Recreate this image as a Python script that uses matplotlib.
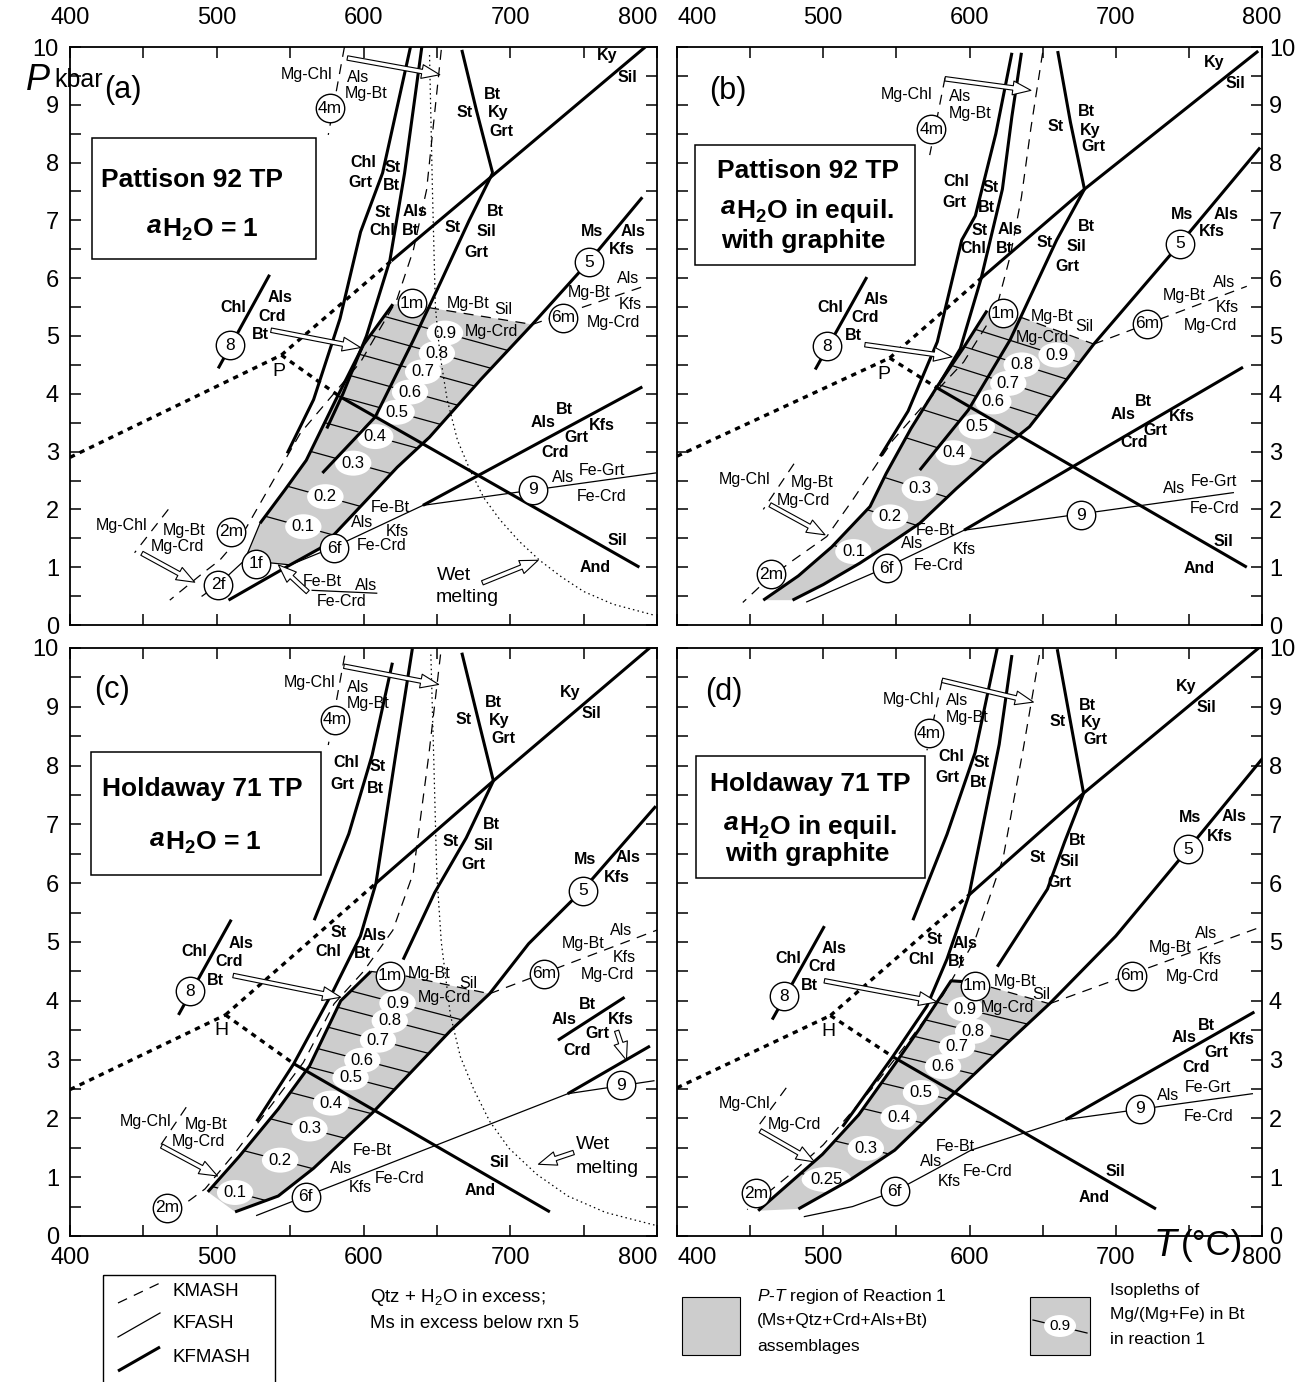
import matplotlib
matplotlib.use("Agg")
import matplotlib.pyplot as plt
from matplotlib.patches import Polygon, Rectangle, FancyArrowPatch, ArrowStyle
import numpy as np

plt.rcParams['font.family'] = 'Liberation Sans'
plt.rcParams['mathtext.fontset'] = 'custom'
plt.rcParams['mathtext.rm'] = 'Liberation Sans'
plt.rcParams['mathtext.it'] = 'Liberation Sans:italic'
plt.rcParams['mathtext.bf'] = 'Liberation Sans:bold'

# ---------------------------------------------------------------- panel (a)
# curves: name -> (style, [(T, P), ...])
a_curves = {
    'ky_sil': ('thick', [(619, 6.3), (792, 10.0)]),
    'ky_sil_ms': ('dot', [(544, 4.67), (619, 6.3)]),
    'and_ky': ('dot', [(400, 2.9), (544, 4.67)]),
    'and_sil_ms': ('dot', [(544, 4.67), (584, 3.95)]),
    'and_sil': ('thick', [(584, 3.95), (788, 1.0)]),
    'st_ky': ('thick', [(667, 9.95), (677, 8.9), (688, 7.82)]),
    'st_sil': ('thick', [(688, 7.82), (672, 7.0), (652, 5.9), (634, 4.93), (608, 3.6), (572, 2.63)]),
    'chl_grt': ('thick', [(632, 10.0), (613, 7.82), (598, 6.8), (584, 5.3), (566, 3.9), (548, 2.97)]),
    'st_chl': ('thick', [(640, 10.05), (628, 7.82), (618, 6.31), (602, 5.0), (586, 4.0), (575, 3.4)]),
    'rxn1': ('thick', [(620, 5.55), (600, 4.85), (581, 3.89), (561, 2.85), (546.5, 2.34), (529.5, 1.76)]),
    'rxn2f': ('thin', [(529.5, 1.76), (519, 1.12), (501, 0.7), (490, 0.5)]),
    'rxn1f': ('thin', [(519, 1.12), (550, 1.04)]),
    'rxn5': ('thick', [(508, 0.43), (530, 0.75), (550, 1.04), (572, 1.35), (602, 2.16), (623, 2.73),
                       (645, 3.25), (680, 4.25), (715, 5.2), (754, 6.3), (790, 7.4)]),
    'rxn1m': ('dash', [(633, 5.55), (647, 5.48), (715, 5.2)]),
    'rxn6m': ('dash', [(715, 5.2), (790, 5.85)]),
    'rxn2m': ('dash', [(653, 9.95), (643, 7.53), (634, 6.49), (622.6, 5.62), (598, 4.55), (557, 3.32),
                       (518, 1.59), (502, 1.12), (490.6, 0.9), (468, 0.43)]),
    'rxn4m': ('dash', [(587, 10.0), (576, 8.48)]),
    'rxn6f': ('thin', [(550, 1.04), (580, 1.35), (640.5, 2.07)]),
    'rxn9': ('thin', [(640.5, 2.07), (799, 2.63)]),
    'rxn_bt': ('thick', [(640.5, 2.07), (790, 4.12)]),
    'rxn8': ('thick', [(536, 6.06), (501, 4.44)]),
    'wet': ('fine', [(645, 9.86), (647, 7.5), (649, 5.5), (652, 4.7), (657, 3.9), (664, 3.2), (672.6, 2.68),
                     (682, 2.2), (693, 1.82), (706, 1.45), (720, 1.12), (735, 0.83), (750, 0.58),
                     (770, 0.36), (798, 0.17)]),
    'key_2m': ('dash', [(467, 2.0), (444, 1.25)]),
    'key_1f': ('thin', [(565, 0.6), (609, 0.55)]),
}
a_field = [(620, 5.55), (600, 4.85), (581, 3.89), (561, 2.85), (546.5, 2.34), (529.5, 1.76), (519, 1.12),
           (550, 1.04), (572, 1.35), (602, 2.16), (623, 2.73), (645, 3.25), (680, 4.25), (715, 5.2),
           (647, 5.48), (633, 5.55)]
a_iso = [("0.9", 655.5, 5.05), ("0.8", 650, 4.7), ("0.7", 640.6, 4.38), ("0.6", 631.7, 4.03),
         ("0.5", 622.6, 3.68), ("0.4", 608, 3.26), ("0.3", 593, 2.8), ("0.2", 574, 2.22), ("0.1", 559, 1.7)]
a_iso_slope = -0.007
a_circles = [("4m", 577, 8.94), ("1m", 633, 5.57), ("5", 754, 6.28), ("6m", 736, 5.32), ("8", 509, 4.84),
             ("2m", 510, 1.61), ("2f", 501, 0.7), ("1f", 527, 1.06), ("6f", 580, 1.33), ("9", 715.5, 2.34)]
a_bold = [("Chl", 600, 8.0), ("Grt", 598, 7.66), ("St", 620, 7.92), ("Bt", 619, 7.6),
          ("St", 613, 7.13), ("Chl", 612.6, 6.82), ("Als", 635, 7.15), ("Bt", 632, 6.82),
          ("St", 669, 8.86), ("Bt", 688, 9.17), ("Ky", 691.6, 8.86), ("Grt", 694, 8.53),
          ("St", 661, 6.87), ("Bt", 689.6, 7.15), ("Sil", 684, 6.8), ("Grt", 677, 6.45),
          ("Ky", 766, 9.86), ("Sil", 780, 9.48), ("Ms", 756, 6.8), ("Als", 784, 6.8), ("Kfs", 776, 6.49),
          ("Bt", 737, 3.72), ("Als", 722, 3.51), ("Kfs", 762.5, 3.46), ("Grt", 745, 3.25), ("Crd", 730.5, 2.99),
          ("Sil", 772.7, 1.47), ("And", 757.7, 1.0),
          ("Chl", 511, 5.5), ("Als", 543, 5.66), ("Crd", 537.6, 5.33), ("Bt", 529.5, 5.02)]
a_plain = [("Mg-Chl", 561, 9.52), ("Als", 596, 9.48), ("Mg-Bt", 602, 9.2),
           ("Mg-Bt", 671.5, 5.57), ("Sil", 695.3, 5.45), ("Mg-Crd", 687.5, 5.07),
           ("Als", 780, 6.0), ("Mg-Bt", 754, 5.76), ("Kfs", 781.6, 5.54), ("Mg-Crd", 770, 5.24),
           ("Als", 736, 2.56), ("Fe-Grt", 762.5, 2.68), ("Fe-Crd", 762.5, 2.22),
           ("Fe-Bt", 618, 2.04), ("Als", 599, 1.78), ("Kfs", 623, 1.61), ("Fe-Crd", 612.6, 1.38),
           ("Fe-Bt", 572, 0.75), ("Als", 602, 0.69), ("Fe-Crd", 585, 0.4),
           ("Mg-Chl", 435, 1.73), ("Mg-Bt", 478, 1.64), ("Mg-Crd", 473, 1.35)]
a_big = [("Wet", 662, 0.86), ("melting", 671, 0.47), ("P", 542, 4.38)]
a_arrows = [(589, 9.81, 652, 9.52), (537, 5.1, 598, 4.8), (449, 1.24, 485, 0.74),
            (562, 0.57, 542, 1.04), (681, 0.73, 719, 1.12)]
a_box = (415, 6.33, 567.6, 8.43)
a_title = ("Pattison 92 TP", 483.4, 7.70)
a_water = (462.5, 6.72, " = 1")
a_extra = None
a_tag = ("(a)", 436, 9.26)

# ---------------------------------------------------------------- panel (b)
b_curves = {
    'ky_sil': ('thick', [(608, 6.0), (678.6, 7.54), (797.4, 9.93)]),
    'ky_sil_ms': ('dot', [(545.4, 4.62), (608, 6.0)]),
    'and_ky': ('dot', [(400, 2.92), (545.4, 4.62)]),
    'and_sil_ms': ('dot', [(545.4, 4.62), (578, 4.1)]),
    'and_sil': ('thick', [(578, 4.1), (789.6, 1.0)]),
    'st_ky': ('thick', [(660.3, 9.93), (669, 8.7), (678.6, 7.54)]),
    'st_sil': ('thick', [(678.6, 7.54), (659.6, 6.66), (627.7, 4.93), (599.2, 3.72), (566, 2.68)]),
    'chl_grt': ('thick', [(629, 9.9), (618, 8.5), (604, 7.08), (594.7, 6.66), (578, 4.9), (558, 3.7), (539, 2.92)]),
    'st_chl': ('thick', [(635.5, 9.9), (629, 8.8), (622.5, 7.54), (608, 6.0), (593.7, 4.78), (580, 4.2)]),
    'rxn1': ('thick', [(612, 5.44), (596, 4.8), (578, 4.13), (560, 3.4), (543, 2.62), (532, 2.05),
                       (505.8, 1.35), (483, 0.85), (459, 0.43)]),
    'rxn5': ('thick', [(479, 0.43), (500, 0.7), (525, 1.07), (545, 1.4), (566, 1.76), (591, 2.36),
                       (615, 2.9), (641, 3.43), (665, 4.2), (685, 4.86), (744, 6.6), (798.7, 8.26)]),
    'rxn1m': ('dash', [(623, 5.4), (636.6, 5.31), (685, 4.86)]),
    'rxn6m': ('dash', [(685, 4.86), (789.6, 5.86)]),
    'rxn2m': ('dash', [(650, 9.9), (642, 8.6), (635.5, 7.4), (628, 6.4), (618, 5.44), (596, 4.55),
                       (572, 3.9), (547.7, 3.2), (520, 2.16), (502.4, 1.53), (479.4, 1.12),
                       (461.5, 0.78), (445, 0.39)]),
    'rxn4m': ('dash', [(583.3, 9.47), (572.8, 8.13)]),
    'rxn6f': ('thin', [(488.7, 0.4), (543.4, 1.0), (596.3, 1.64)]),
    'rxn9': ('thin', [(596.3, 1.64), (780.4, 2.29)]),
    'rxn_bt': ('thick', [(596.3, 1.64), (787, 4.46)]),
    'rxn8': ('thick', [(529.8, 6.02), (494.5, 4.42)]),
    'key_2m': ('dash', [(480, 2.79), (459, 2.0)]),
}
b_field = [(612, 5.44), (596, 4.8), (578, 4.13), (560, 3.4), (543, 2.62), (532, 2.05), (505.8, 1.35),
           (483, 0.85), (459, 0.43), (479, 0.43), (500, 0.7), (525, 1.07), (545, 1.4), (566, 1.76),
           (591, 2.36), (615, 2.9), (641, 3.43), (665, 4.2), (685, 4.86), (636.6, 5.31), (623, 5.4)]
b_iso = [("0.9", 659.6, 4.67), ("0.8", 635.7, 4.5), ("0.7", 626.5, 4.18), ("0.6", 616.3, 3.86),
         ("0.5", 605, 3.43), ("0.4", 589, 2.98), ("0.3", 566, 2.36), ("0.2", 545.6, 1.87), ("0.1", 520.6, 1.27)]
b_iso_slope = -0.008
b_circles = [("4m", 574, 8.58), ("1m", 623, 5.39), ("5", 744, 6.6), ("6m", 721.7, 5.21), ("8", 502.3, 4.82),
             ("2m", 464.5, 0.88), ("6f", 543.4, 0.98), ("9", 676, 1.9)]
b_bold = [("Chl", 591, 7.67), ("Grt", 589.8, 7.31), ("St", 614.6, 7.57), ("Bt", 611.5, 7.22),
          ("St", 606.8, 6.82), ("Chl", 602.9, 6.52), ("Als", 627.7, 6.85), ("Bt", 623.8, 6.52),
          ("St", 659, 8.62), ("Bt", 680, 8.88), ("Ky", 682.5, 8.55), ("Grt", 685, 8.27),
          ("Bt", 680, 6.89), ("St", 651.2, 6.62), ("Sil", 673.4, 6.55), ("Grt", 666.8, 6.21),
          ("Ky", 767.4, 9.73), ("Sil", 781.7, 9.37), ("Ms", 745.2, 7.11), ("Als", 775.2, 7.11), ("Kfs", 766, 6.8),
          ("Bt", 719, 3.87), ("Als", 704.7, 3.64), ("Kfs", 745.2, 3.6), ("Grt", 726.9, 3.37), ("Crd", 712.5, 3.15),
          ("Sil", 773.9, 1.44), ("And", 756.9, 0.98),
          ("Chl", 505, 5.5), ("Als", 536.3, 5.64), ("Crd", 528.5, 5.32), ("Bt", 520.6, 5.01)]
b_plain = [("Mg-Chl", 557.2, 9.17), ("Als", 593.7, 9.14), ("Mg-Bt", 600.3, 8.85),
           ("Mg-Bt", 656.3, 5.33), ("Sil", 678.2, 5.16), ("Mg-Crd", 650.2, 4.97),
           ("Als", 773.9, 5.93), ("Mg-Bt", 746.5, 5.7), ("Kfs", 776.5, 5.5), ("Mg-Crd", 764.8, 5.19),
           ("Als", 740, 2.36), ("Fe-Grt", 767.4, 2.49), ("Fe-Crd", 767.4, 2.02),
           ("Fe-Bt", 576.5, 1.64), ("Als", 560.5, 1.41), ("Kfs", 596.3, 1.31), ("Fe-Crd", 579, 1.03),
           ("Mg-Chl", 446.2, 2.52), ("Mg-Bt", 492.1, 2.47), ("Mg-Crd", 486.5, 2.16)]
b_big = [("P", 541.5, 4.33)]
b_arrows = [(583.3, 9.45, 642, 9.25), (528.5, 4.85, 588, 4.64), (463.6, 2.08, 501.2, 1.56)]
b_box = (412.3, 6.23, 563, 8.31)
b_title = ("Pattison 92 TP", 489.8, 7.86)
b_water = (440.2, 7.04, " in equil.")
b_extra = ("with graphite", 486.4, 6.65)
b_tag = ("(b)", 434.5, 9.24)

# ---------------------------------------------------------------- panel (c)
c_curves = {
    'ky_sil': ('thick', [(608.5, 6.0), (688.5, 7.74), (799.2, 10.09)]),
    'ky_sil_ms': ('dot', [(505.9, 3.76), (608.5, 6.0)]),
    'and_ky': ('dot', [(400, 2.49), (505.9, 3.76)]),
    'and_sil_ms': ('dot', [(505.9, 3.76), (552.5, 2.93)]),
    'and_sil': ('thick', [(552.5, 2.93), (727, 0.41)]),
    'st_ky': ('thick', [(667, 9.92), (678, 8.8), (688.5, 7.74)]),
    'st_sil': ('thick', [(688.5, 7.74), (670, 6.77), (648.5, 5.84), (627, 4.70)]),
    'chl_grt': ('thick', [(619.7, 9.75), (605.9, 8.18), (590, 6.84), (566.4, 5.37)]),
    'st_chl': ('thick', [(633.3, 9.99), (621.9, 8.18), (608.5, 6.0), (597.9, 5.1), (579.2, 4.16),
                         (552.5, 2.93), (527.2, 1.95)]),
    'rxn1': ('thick', [(605, 4.5), (584.5, 4.0), (563.2, 2.89), (541.9, 2.16), (515.2, 1.35), (493.9, 0.75)]),
    'rxn5': ('thick', [(512.5, 0.41), (541.9, 0.68), (565.9, 1.15), (605.9, 2.09), (659.2, 3.49),
                       (685.9, 4.12), (712.5, 4.97), (749.9, 5.9), (799.2, 7.31)]),
    'rxn1m': ('dash', [(605, 4.5), (627.2, 4.43), (685.9, 4.12)]),
    'rxn6m': ('dash', [(685.9, 4.12), (805, 5.25)]),
    'rxn2m': ('dash', [(652.5, 9.89), (644.5, 8.18), (633.9, 6.17), (620, 5.2), (600, 4.5), (580, 3.95),
                       (559, 2.95), (538, 2.25), (512, 1.4), (492, 0.8), (480, 0.58)]),
    'rxn4m': ('dash', [(587.2, 9.87), (576, 8.35)]),
    'rxn6f': ('thin', [(527.2, 0.35), (739.2, 2.42)]),
    'rxn9': ('thin', [(739.2, 2.42), (797.9, 2.64)]),
    'rxn_bt': ('thick', [(739.2, 2.42), (795.2, 3.23)]),
    'key_bt': ('thick', [(732.5, 3.33), (777.9, 4.06)]),
    'rxn8': ('thick', [(509.9, 5.38), (473.9, 3.76)]),
    'wet': ('fine', [(645.9, 9.89), (648, 8.0), (649.9, 6.17), (653, 5.0), (659.2, 3.76), (666, 3.05),
                     (675.2, 2.49), (686, 1.95), (699.2, 1.49), (718, 1.05), (739.2, 0.68), (765, 0.4),
                     (799.2, 0.18)]),
    'key_2m': ('dash', [(479.2, 2.19), (459.2, 1.45)]),
}
c_field = [(605, 4.5), (584.5, 4.0), (563.2, 2.89), (541.9, 2.16), (515.2, 1.35), (493.9, 0.75),
           (512.5, 0.41), (541.9, 0.68), (565.9, 1.15), (605.9, 2.09), (659.2, 3.49), (685.9, 4.12),
           (627.2, 4.43)]
c_iso = [("0.9", 623.2, 3.96), ("0.8", 617.9, 3.66), ("0.7", 609.9, 3.33), ("0.6", 599.2, 2.99),
         ("0.5", 591.2, 2.69), ("0.4", 577.9, 2.26), ("0.3", 563.2, 1.82), ("0.2", 543.2, 1.29), ("0.1", 512.5, 0.74)]
c_iso_slope = -0.0065
c_circles = [("4m", 580.5, 8.78), ("1m", 617.9, 4.43), ("5", 749.9, 5.87), ("6m", 723.2, 4.46), ("8", 481.9, 4.16),
             ("2m", 465.9, 0.48), ("6f", 560.5, 0.67), ("9", 775.2, 2.56)]
c_bold = [("Chl", 588.5, 8.05), ("Grt", 585.9, 7.68), ("St", 609.9, 7.98), ("Bt", 608, 7.61),
          ("St", 583.2, 5.17), ("Chl", 576, 4.83), ("Als", 607.2, 5.11), ("Bt", 599.2, 4.8),
          ("St", 668.5, 8.78), ("Bt", 688.5, 9.08), ("Ky", 692.5, 8.76), ("Grt", 695.2, 8.46),
          ("Bt", 687.2, 6.99), ("St", 659.2, 6.71), ("Sil", 681.9, 6.64), ("Grt", 675.2, 6.31),
          ("Ky", 740.5, 9.25), ("Sil", 755.2, 8.88), ("Ms", 751.2, 6.41), ("Als", 780.5, 6.43), ("Kfs", 772.5, 6.1),
          ("Bt", 752.5, 3.93), ("Als", 736.5, 3.69), ("Kfs", 775.2, 3.69), ("Grt", 759.2, 3.44), ("Crd", 745.9, 3.16),
          ("Sil", 692.5, 1.25), ("And", 679.2, 0.78),
          ("Chl", 484.5, 4.83), ("Als", 516.5, 4.98), ("Crd", 508.5, 4.67), ("Bt", 499.2, 4.34)]
c_plain = [("Mg-Chl", 563.2, 9.42), ("Als", 596.5, 9.33), ("Mg-Bt", 603.2, 9.05),
           ("Mg-Bt", 644.5, 4.46), ("Sil", 671.2, 4.3), ("Mg-Crd", 655.2, 4.06),
           ("Als", 775.2, 5.2), ("Mg-Bt", 749.9, 4.98), ("Kfs", 777.9, 4.73), ("Mg-Crd", 765.9, 4.44),
           ("Fe-Bt", 605.9, 1.45), ("Als", 584.5, 1.15), ("Fe-Crd", 624.5, 0.98), ("Kfs", 597.9, 0.82),
           ("Mg-Chl", 451.2, 1.95), ("Mg-Bt", 492.5, 1.89), ("Mg-Crd", 487.2, 1.6)]
c_big = [("Wet", 756.5, 1.55), ("melting", 765.9, 1.15), ("H", 503.2, 3.49)]
c_arrows = [(586.7, 9.69, 651.2, 9.38), (511.2, 4.43, 584.5, 4.06), (462.4, 1.53, 500.5, 1.02),
            (772.5, 3.49, 779.2, 2.99), (743.2, 1.42, 719.2, 1.22)]
c_box = (414.4, 6.14, 570.7, 8.23)
c_title = ("Holdaway 71 TP", 490.4, 7.61)
c_water = (464.5, 6.57, " = 1")
c_extra = None
c_tag = ("(c)", 428.5, 9.28)

# ---------------------------------------------------------------- panel (d)
d_curves = {
    'ky_sil': ('thick', [(599.7, 5.8), (678, 7.53), (801.6, 10.08)]),
    'ky_sil_ms': ('dot', [(504.9, 3.75), (599.7, 5.8)]),
    'and_ky': ('dot', [(400, 2.52), (504.9, 3.75)]),
    'and_sil_ms': ('dot', [(504.9, 3.75), (547.5, 3.05)]),
    'and_sil': ('thick', [(547.5, 3.05), (727.5, 0.46)]),
    'st_ky': ('thick', [(660, 9.98), (669, 8.75), (678, 7.53)]),
    'st_sil': ('thick', [(678, 7.53), (665, 6.7), (653.3, 5.9), (619, 4.58)]),
    'chl_grt': ('thick', [(619, 10.0), (603.8, 8.22), (584.6, 6.83), (561.3, 5.37)]),
    'st_chl': ('thick', [(629, 9.88), (620.3, 8.36), (599.7, 5.8), (584.6, 4.71), (570.9, 3.91),
                         (547.5, 3.05), (513.2, 1.86)]),
    'rxn1': ('thick', [(600, 4.32), (587.4, 4.34), (565.4, 3.51), (548.9, 2.92), (524.2, 2.06),
                       (499.5, 1.39), (455.5, 0.43)]),
    'rxn5': ('thick', [(483, 0.46), (518.7, 0.96), (548.9, 1.46), (581.9, 2.25), (618, 3.1), (654.7, 3.95),
                       (700, 5.1), (749.5, 6.58), (801.6, 8.16)]),
    'rxn1m': ('dash', [(603, 4.3), (614.8, 4.23), (654.7, 3.95)]),
    'rxn6m': ('dash', [(654.7, 3.95), (797.5, 5.24)]),
    'rxn2m': ('dash', [(647.8, 9.88), (636.8, 8.29), (623, 6.43), (603.8, 5.04), (582, 4.1), (558, 3.3),
                       (533, 2.5), (500, 1.55), (478, 1.06), (448, 0.45)]),
    'rxn4m': ('dash', [(581.3, 9.45), (570.9, 8.26)]),
    'rxn6f': ('thin', [(487.1, 0.33), (520, 0.5), (548.9, 0.76), (601.1, 1.46), (665.7, 1.98)]),
    'rxn9': ('thin', [(665.7, 1.98), (793.4, 2.42)]),
    'rxn_bt': ('thick', [(665.7, 1.98), (794.8, 3.81)]),
    'rxn8': ('thick', [(500.8, 5.27), (465.1, 3.68)]),
    'key_2m': ('dash', [(474.7, 2.52), (454.1, 1.82)]),
}
d_field = [(600, 4.32), (587.4, 4.34), (565.4, 3.51), (548.9, 2.92), (524.2, 2.06), (499.5, 1.39),
           (455.5, 0.43), (483, 0.46), (518.7, 0.96), (548.9, 1.46), (581.9, 2.25), (618, 3.1),
           (654.7, 3.95), (614.8, 4.23)]
d_iso = [("0.9", 597, 3.86), ("0.8", 602.5, 3.48), ("0.7", 591.5, 3.22), ("0.6", 581.9, 2.88),
         ("0.5", 566.8, 2.44), ("0.4", 551.6, 2.02), ("0.3", 529.1, 1.49), ("0.25", 502.2, 0.96)]
d_iso_slope = -0.006
d_circles = [("4m", 572.3, 8.55), ("1m", 603.8, 4.26), ("5", 749.5, 6.58), ("6m", 711, 4.43), ("8", 473.4, 4.08),
             ("2m", 454.1, 0.73), ("6f", 548.9, 0.76), ("9", 716.5, 2.16)]
d_bold = [("Chl", 587.4, 8.16), ("Grt", 584.6, 7.79), ("St", 608, 8.06), ("Bt", 606, 7.71),
          ("St", 576.4, 5.04), ("Chl", 566.8, 4.71), ("Als", 597, 4.97), ("Bt", 590.7, 4.66),
          ("St", 660.2, 8.75), ("Bt", 680.8, 9.03), ("Ky", 683.5, 8.74), ("Grt", 686.3, 8.45),
          ("Bt", 673.9, 6.73), ("St", 646.4, 6.43), ("Sil", 668.4, 6.37), ("Grt", 661.5, 6.02),
          ("Ky", 748.1, 9.35), ("Sil", 761.8, 8.99), ("Ms", 750.8, 7.11), ("Als", 781, 7.13), ("Kfs", 771.4, 6.8),
          ("Bt", 761.8, 3.58), ("Als", 746.7, 3.38), ("Kfs", 786.5, 3.35), ("Grt", 768.7, 3.12), ("Crd", 754.9, 2.86),
          ("Sil", 700, 1.09), ("And", 684.9, 0.65),
          ("Chl", 476.1, 4.72), ("Als", 507.1, 4.89), ("Crd", 499.5, 4.58), ("Bt", 490.7, 4.26)]
d_plain = [("Mg-Chl", 558.5, 9.12), ("Als", 591.5, 9.1), ("Mg-Bt", 598.4, 8.82),
           ("Mg-Bt", 631.3, 4.32), ("Sil", 649.2, 4.11), ("Mg-Crd", 625.8, 3.88),
           ("Als", 761.8, 5.14), ("Mg-Bt", 737.1, 4.91), ("Kfs", 764.6, 4.71), ("Mg-Crd", 752.2, 4.41),
           ("Als", 735.7, 2.39), ("Fe-Grt", 763.2, 2.52), ("Fe-Crd", 763.2, 2.04),
           ("Fe-Bt", 590.1, 1.53), ("Als", 573.6, 1.26), ("Fe-Crd", 612.1, 1.09), ("Kfs", 586, 0.93),
           ("Mg-Chl", 445.9, 2.25), ("Mg-Crd", 480.2, 1.89)]
d_big = [("H", 503.6, 3.48)]
d_arrows = [(581.3, 9.45, 643.7, 9.08), (500.8, 4.34, 577.7, 3.98), (456.9, 1.79, 494, 1.26)]
d_box = (412.9, 6.09, 569.5, 8.17)
d_title = ("Holdaway 71 TP", 490.9, 7.69)
d_water = (442.3, 6.84, " in equil.")
d_extra = ("with graphite", 489, 6.49)
d_tag = ("(d)", 432.1, 9.25)

x_ticks = np.arange(400, 801, 50)
y_ticks = np.arange(0, 10.01, 0.5)

STYLE = {
    'thick': dict(color='black', lw=2.2, solid_capstyle='butt'),
    'thin': dict(color='black', lw=0.9),
    'dash': dict(color='black', lw=0.9, dashes=(8, 6)),
    'dot': dict(color='black', lw=2.4, dashes=(1.6, 1.6)),
    'fine': dict(color='black', lw=0.9, dashes=(1.2, 2.6)),
}
GREY = '#cdcdcd'


def hollow_arrow(ax, t0, p0, t1, p1):
    arr = FancyArrowPatch((t0, p0), (t1, p1),
                          arrowstyle=ArrowStyle.Simple(head_length=13, head_width=10, tail_width=3.2),
                          mutation_scale=1, fc='white', ec='black', lw=0.8,
                          shrinkA=0, shrinkB=0, zorder=6)
    ax.add_patch(arr)


def draw_panel(ax, p):
    ax.set_xlim(400, 800)
    ax.set_ylim(0, 10)

    field = Polygon(p['field'], closed=True, fc=GREY, ec='none', zorder=1)
    ax.add_patch(field)
    for lab, t, pr in p['iso']:
        tt = np.array([t - 90, t + 90])
        ln, = ax.plot(tt, pr + p['slope'] * (tt - t), color='black', lw=0.9, zorder=1.5)
        ln.set_clip_path(field)
        ax.text(t, pr, lab, ha='center', va='center', fontsize=12, zorder=2,
                bbox=dict(boxstyle='ellipse,pad=0.08', fc='white', ec='none'))

    for name, (style, pts) in p['curves'].items():
        pts = np.array(pts)
        ax.plot(pts[:, 0], pts[:, 1], zorder=3, **STYLE[style])

    for lab, t, pr in p['bold']:
        ax.text(t, pr, lab, ha='center', va='center', fontsize=11.5, fontweight='bold', zorder=4)
    for lab, t, pr in p['plain']:
        ax.text(t, pr, lab, ha='center', va='center', fontsize=11.5, zorder=4)
    for lab, t, pr in p['big']:
        ax.text(t, pr, lab, ha='center', va='center', fontsize=14, zorder=4)

    for lab, t, pr in p['circles']:
        ax.scatter([t], [pr], s=420, marker='o', fc='white', ec='black', lw=1.0, zorder=7)
        ax.text(t, pr, lab, ha='center', va='center', fontsize=12.5, zorder=8)

    for t0, p0, t1, p1 in p['arrows']:
        hollow_arrow(ax, t0, p0, t1, p1)

    x0, y0, x1, y1 = p['box']
    ax.add_patch(Rectangle((x0, y0), x1 - x0, y1 - y0, fc='white', ec='black', lw=1.1, zorder=5))
    title, tt, tp = p['title']
    ax.text(tt, tp, title, ha='center', va='center', fontsize=19, fontweight='bold', zorder=6)
    wt, wp, suffix = p['water']
    ax.text(wt, wp + 0.07, 'a', ha='right', va='baseline', fontsize=19, fontweight='bold',
            fontstyle='italic', zorder=6)
    ax.text(wt, wp, r'H$_\mathbf{2}$O' + suffix, ha='left', va='baseline', fontsize=19,
            fontweight='bold', zorder=6)
    if p['extra'] is not None:
        et, ex, ep = p['extra']
        ax.text(ex, ep, et, ha='center', va='center', fontsize=19, fontweight='bold', zorder=6)
    tag, tx, ty = p['tag']
    ax.text(tx, ty, tag, ha='center', va='center', fontsize=22, zorder=6)

    ax.set_xticks(x_ticks)
    ax.set_xticklabels([str(v) if v % 100 == 0 else '' for v in x_ticks])
    ax.set_yticks(y_ticks)
    ax.set_yticklabels([str(int(v)) if v % 1 == 0 else '' for v in y_ticks])
    ax.tick_params(direction='in', length=8, width=1.1, top=True, right=True, bottom=True, left=True,
                   labelsize=17, labeltop=False, labelbottom=False, labelleft=False, labelright=False)
    for s in ax.spines.values():
        s.set_linewidth(1.3)


panels = [
    dict(curves=a_curves, field=a_field, iso=a_iso, slope=a_iso_slope, circles=a_circles, bold=a_bold,
         plain=a_plain, big=a_big, arrows=a_arrows, box=a_box, title=a_title, water=a_water,
         extra=a_extra, tag=a_tag),
    dict(curves=b_curves, field=b_field, iso=b_iso, slope=b_iso_slope, circles=b_circles, bold=b_bold,
         plain=b_plain, big=b_big, arrows=b_arrows, box=b_box, title=b_title, water=b_water,
         extra=b_extra, tag=b_tag),
    dict(curves=c_curves, field=c_field, iso=c_iso, slope=c_iso_slope, circles=c_circles, bold=c_bold,
         plain=c_plain, big=c_big, arrows=c_arrows, box=c_box, title=c_title, water=c_water,
         extra=c_extra, tag=c_tag),
    dict(curves=d_curves, field=d_field, iso=d_iso, slope=d_iso_slope, circles=d_circles, bold=d_bold,
         plain=d_plain, big=d_big, arrows=d_arrows, box=d_box, title=d_title, water=d_water,
         extra=d_extra, tag=d_tag),
]

W, H = 1305, 1382
fig = plt.figure(figsize=(W / 100, H / 100), dpi=100)

# axes boxes in pixels: left, top, right, bottom
boxes = [(70, 47, 657, 625), (677, 47, 1262, 625), (70, 648, 657, 1236), (677, 648, 1262, 1236)]
axes = []
for (l, t, r, b), p in zip(boxes, panels):
    ax = fig.add_axes([l / W, 1 - b / H, (r - l) / W, (b - t) / H])
    draw_panel(ax, p)
    axes.append(ax)

axes[0].tick_params(labeltop=True, labelleft=True, pad=13)
axes[0].tick_params(axis='y', pad=8)
axes[1].tick_params(labeltop=True, labelright=True, pad=13)
axes[1].tick_params(axis='y', pad=5)
axes[2].tick_params(labelbottom=True, labelleft=True, pad=8)
axes[3].tick_params(labelbottom=True, labelright=True, pad=8)
axes[3].tick_params(axis='y', pad=5)

# keep the shared "800 400" tick labels apart
axes[0].xaxis.get_major_ticks()[-1].label2.set_horizontalalignment('right')
axes[1].xaxis.get_major_ticks()[0].label2.set_horizontalalignment('left')
axes[2].xaxis.get_major_ticks()[-1].label1.set_horizontalalignment('right')
axes[3].xaxis.get_major_ticks()[0].label1.set_horizontalalignment('left')

# overlay in pixel coordinates for the axis titles and the key
ov = fig.add_axes([0, 0, 1, 1])
ov.set_xlim(0, W)
ov.set_ylim(H, 0)
ov.axis('off')
ov.patch.set_alpha(0)

ov.text(38, 80, 'P', fontsize=26, fontstyle='italic', ha='center', va='center')
ov.text(79, 80, 'kbar', fontsize=18, ha='center', va='center')
ov.text(1165, 1246, 'T', fontsize=27, fontstyle='italic', ha='center', va='center')
ov.text(1212, 1246, '(\u00b0C)', fontsize=25, ha='center', va='center')

ov.add_patch(Rectangle((103, 1275), 172, 130, fill=False, ec='black', lw=1.0, clip_on=False))
ov.plot([118, 160], [1303, 1283], **STYLE['dash'])
ov.plot([118, 160], [1337, 1313], **STYLE['thin'])
ov.plot([118, 160], [1371, 1347], **STYLE['thick'])
key_font = 13.5
ov.text(173, 1292, 'KMASH', fontsize=key_font, va='center')
ov.text(173, 1324, 'KFASH', fontsize=key_font, va='center')
ov.text(173, 1357, 'KFMASH', fontsize=key_font, va='center')
ov.text(370, 1298, 'Qtz + H$_2$O in excess;', fontsize=key_font, va='center')
ov.text(370, 1323, 'Ms in excess below rxn 5', fontsize=key_font, va='center')

side_font = 12.5
ov.add_patch(Rectangle((682, 1297), 58, 58, fc=GREY, ec='black', lw=0.8))
ov.text(757, 1297, r'$\mathit{P}$-$\mathit{T}$ region of Reaction 1', fontsize=side_font, va='center')
ov.text(757, 1321, '(Ms+Qtz+Crd+Als+Bt)', fontsize=side_font, va='center')
ov.text(757, 1346, 'assemblages', fontsize=side_font, va='center')

ov.add_patch(Rectangle((1030, 1297), 60, 58, fc=GREY, ec='black', lw=0.8))
ov.plot([1033, 1087], [1320, 1333], color='black', lw=0.9)
ov.text(1060, 1326, '0.9', fontsize=11, ha='center', va='center',
        bbox=dict(boxstyle='ellipse,pad=0.05', fc='white', ec='none'))
ov.text(1110, 1290, 'Isopleths of', fontsize=side_font, va='center')
ov.text(1110, 1315, 'Mg/(Mg+Fe) in Bt', fontsize=side_font, va='center')
ov.text(1110, 1340, 'in reaction 1', fontsize=side_font, va='center')

fig.savefig('out.png', dpi=100)
